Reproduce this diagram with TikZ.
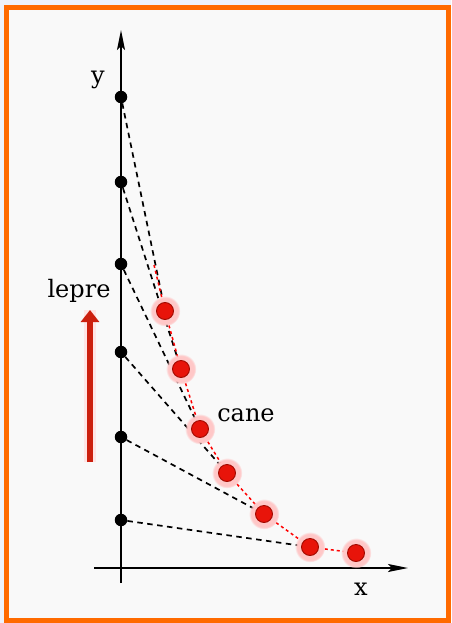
\documentclass[tikz,border=0pt]{standalone}
\usepackage{fontspec}
\setmainfont{DejaVu Serif}
\usetikzlibrary{arrows.meta,shadows,backgrounds}
\definecolor{frameorange}{HTML}{FF6A00}
\definecolor{paperbg}{HTML}{F9F9F9}
\definecolor{outerbg}{HTML}{EEF2FA}
\definecolor{harered}{HTML}{CC200E}
\definecolor{dogred}{HTML}{E8140A}
\definecolor{dogdark}{HTML}{A00A00}

\begin{document}
\begin{tikzpicture}[x=1pt, y=-1pt,
  axis/.style={line width=1.8pt, -{Stealth[length=20pt,width=8pt,inset=4pt]}},
  hare/.style={circle, fill=black, inner sep=0pt, minimum size=12.5pt},
  dog/.style={circle, fill=dogred, draw=dogdark, line width=0.9pt, inner sep=0pt, minimum size=17pt, circular glow={fill=red!22, shadow scale=1.8}},
  sight/.style={line width=1.7pt, dash pattern=on 5.5pt off 4.5pt},
  track/.style={red, line width=1.5pt, dash pattern=on 3pt off 3pt},
  run/.style={harered, line width=5.5pt, -{Triangle[width=18pt,length=12pt]}, preaction={draw=red!10, line width=12pt, arrows=-}},
  lbl/.style={font=\fontsize{24}{26}\selectfont, inner sep=0pt, anchor=base}
]
  \useasboundingbox (0,0) rectangle (451,623);

  % hare on the y axis
  \node[hare] (h1) at (121,97) {};
  \node[hare] (h2) at (121,182) {};
  \node[hare] (h3) at (121,264) {};
  \node[hare] (h4) at (121,352) {};
  \node[hare] (h5) at (121,437) {};
  \node[hare] (h6) at (121,520) {};

  % dog chasing
  \node[dog] (d1) at (165,311) {};
  \node[dog] (d2) at (181,369) {};
  \node[dog] (d3) at (200,429) {};
  \node[dog] (d4) at (227,473) {};
  \node[dog] (d5) at (264,514) {};
  \node[dog] (d6) at (310,547) {};
  \node[dog] (d7) at (356,553) {};

  \coordinate (xfoot) at (94,568);
  \coordinate (xtip) at (408,568);
  \coordinate (yfoot) at (121,583);
  \coordinate (ytip) at (121,30);
  \coordinate (trackend) at (154,265);
  \coordinate (runfoot) at (90,462);
  \coordinate (runtip) at (90,310);

  \node[lbl] (ylab) at (98,84) {y};
  \node[lbl] (xlab) at (361,595) {x};
  \node[lbl] (lepre) at (79,297) {lepre};
  \node[lbl] (cane) at (246,421) {cane};

  \draw[run] (runfoot) -- (runtip);

  \begin{scope}[on background layer]
    \fill[outerbg] (0,0) rectangle (451,623);
    \filldraw[fill=paperbg, draw=frameorange, line width=5pt] (6.5,7.5) rectangle (448.5,620.5);
    \draw[axis] (xfoot) -- (xtip);
    \draw[axis] (yfoot) -- (ytip);
    \draw[sight] (h1) -- (d1);
    \draw[sight] (h2) -- (d2);
    \draw[sight] (h3) -- (d3);
    \draw[sight] (h4) -- (d4);
    \draw[sight] (h5) -- (d5);
    \draw[sight] (h6) -- (d6);
    \draw[track] (trackend) -- (d1) -- (d2) -- (d3) -- (d4) -- (d5) -- (d6) -- (d7);
  \end{scope}
\end{tikzpicture}
\end{document}
